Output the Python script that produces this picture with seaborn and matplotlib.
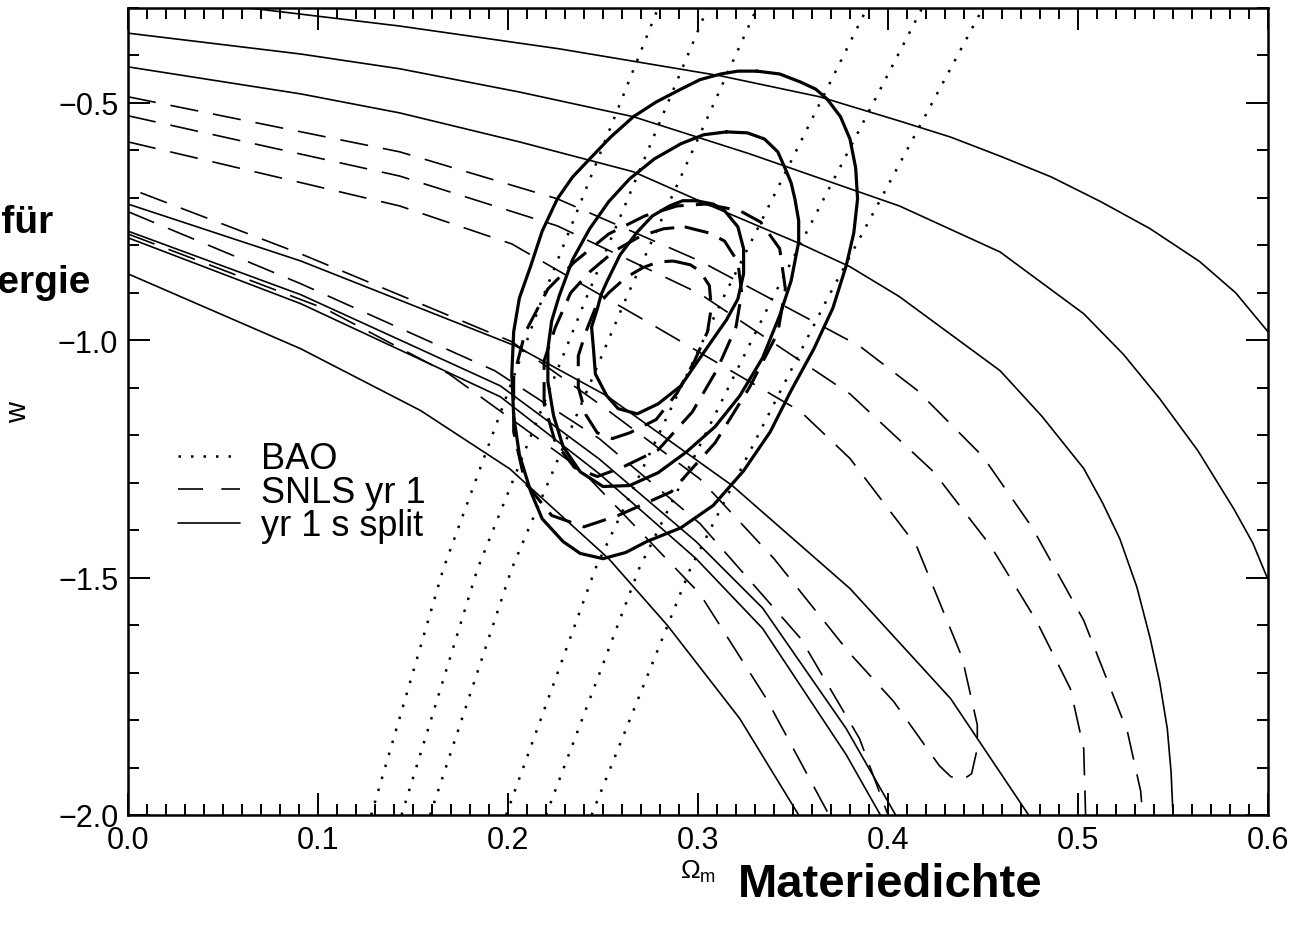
import matplotlib
matplotlib.use("Agg")
import matplotlib.pyplot as plt
from matplotlib.lines import Line2D
from matplotlib.ticker import MultipleLocator
import seaborn as sns

# ---- BAO (dotted), four points each: w values shared ----
bao_w = [-2.0, -1.481, -0.913, -0.300]
bao_1_om = [0.128, 0.166, 0.218, 0.279]
bao_2_om = [0.144, 0.184, 0.241, 0.305]
bao_3_om = [0.159, 0.202, 0.262, 0.331]
bao_4_om = [0.199, 0.246, 0.313, 0.389]
bao_5_om = [0.220, 0.269, 0.339, 0.418]
bao_6_om = [0.244, 0.296, 0.368, 0.450]

# ---- SNLS yr 1 (thin dashed) ----
snls_a_om = [0.0, 0.143, 0.226, 0.301, 0.385, 0.415, 0.450, 0.476, 0.503, 0.526, 0.533, 0.534]
snls_a_w = [-0.487, -0.603, -0.702, -0.833, -1.012, -1.104, -1.245, -1.395, -1.590, -1.824, -1.950, -2.0]
snls_b_om = [0.0, 0.143, 0.226, 0.301, 0.380, 0.424, 0.454, 0.478, 0.496, 0.503, 0.504]
snls_b_w = [-0.527, -0.654, -0.759, -0.902, -1.113, -1.277, -1.433, -1.590, -1.734, -1.860, -2.0]
snls_c_om = [0.0, 0.143, 0.202, 0.275, 0.354, 0.380, 0.415, 0.439, 0.447, 0.447, 0.444, 0.439,
             0.433, 0.427, 0.403, 0.380, 0.340, 0.301, 0.248, 0.202, 0.091, 0.0]
snls_c_w = [-0.582, -0.717, -0.797, -0.965, -1.150, -1.249, -1.433, -1.668, -1.810, -1.860, -1.913, -1.927,
            -1.919, -1.896, -1.761, -1.660, -1.460, -1.292, -1.134, -1.003, -0.818, -0.679]
snls_e_om = [0.0, 0.091, 0.193, 0.248, 0.301, 0.354, 0.385, 0.400]
snls_e_w = [-0.729, -0.881, -1.064, -1.207, -1.386, -1.628, -1.839, -2.0]
snls_f_om = [0.0, 0.104, 0.169, 0.238, 0.301, 0.336, 0.369]
snls_f_w = [-0.776, -0.934, -1.071, -1.271, -1.534, -1.755, -2.0]

# ---- yr 1 s split (thin solid) ----
split_a_om = [0.064, 0.143, 0.227, 0.312, 0.364, 0.406, 0.433, 0.459, 0.486, 0.512, 0.538, 0.564, 0.583, 0.600]
split_a_w = [-0.300, -0.338, -0.386, -0.443, -0.487, -0.538, -0.572, -0.612, -0.656, -0.708, -0.765, -0.834, -0.900, -0.982]
split_b_om = [0.0, 0.091, 0.143, 0.206, 0.266, 0.327, 0.406, 0.459, 0.503, 0.524, 0.543, 0.563, 0.582, 0.592, 0.600]
split_b_w = [-0.353, -0.397, -0.428, -0.477, -0.529, -0.607, -0.717, -0.814, -0.944, -1.030, -1.123, -1.232, -1.355, -1.427, -1.504]
split_c_om = [0.0, 0.091, 0.143, 0.206, 0.266, 0.308, 0.354, 0.380, 0.406, 0.459, 0.481, 0.503, 0.513,
              0.522, 0.531, 0.538, 0.543, 0.547, 0.549, 0.550]
split_c_w = [-0.424, -0.481, -0.521, -0.582, -0.645, -0.719, -0.797, -0.845, -0.908, -1.064, -1.160, -1.270, -1.343,
             -1.418, -1.520, -1.628, -1.720, -1.818, -1.910, -2.0]
split_d_om = [0.0, 0.091, 0.204, 0.252, 0.318, 0.380, 0.433, 0.474]
split_d_w = [-0.713, -0.833, -1.012, -1.117, -1.306, -1.523, -1.755, -2.0]
split_e1_om = [0.0, 0.091, 0.196, 0.248, 0.299, 0.334, 0.378, 0.404]
split_e1_w = [-0.770, -0.904, -1.096, -1.250, -1.424, -1.564, -1.818, -2.0]
split_e2_om = [0.0, 0.091, 0.196, 0.248, 0.299, 0.334, 0.378, 0.396]
split_e2_w = [-0.784, -0.923, -1.119, -1.281, -1.460, -1.607, -1.873, -2.0]
split_f_om = [0.0, 0.091, 0.154, 0.201, 0.253, 0.284, 0.322, 0.353]
split_f_w = [-0.860, -1.018, -1.148, -1.271, -1.460, -1.601, -1.797, -2.0]

# ---- combined contours (thick solid) ----
comb_out_om = [0.331, 0.343, 0.354, 0.362, 0.368, 0.375, 0.380, 0.383, 0.384, 0.382, 0.378, 0.371,
               0.361, 0.349, 0.338, 0.324, 0.308, 0.291, 0.273, 0.262, 0.250, 0.238, 0.229, 0.218,
               0.212, 0.206, 0.203, 0.202, 0.203, 0.206, 0.212, 0.218, 0.226, 0.234, 0.243, 0.254,
               0.266, 0.278, 0.291, 0.301, 0.312, 0.321, 0.331]
comb_out_w = [-0.433, -0.439, -0.456, -0.471, -0.492, -0.529, -0.576, -0.637, -0.702, -0.774, -0.843, -0.932,
              -1.018, -1.106, -1.193, -1.275, -1.348, -1.395, -1.424, -1.447, -1.460, -1.449, -1.424, -1.376,
              -1.319, -1.241, -1.159, -1.071, -0.982, -0.911, -0.843, -0.770, -0.702, -0.656, -0.618, -0.572,
              -0.529, -0.498, -0.471, -0.451, -0.439, -0.433, -0.433]
comb_mid_om = [0.315, 0.326, 0.335, 0.342, 0.346, 0.349, 0.351, 0.353, 0.353, 0.349, 0.343, 0.334,
               0.322, 0.309, 0.294, 0.279, 0.264, 0.250, 0.238, 0.229, 0.224, 0.221, 0.221, 0.223,
               0.227, 0.234, 0.243, 0.253, 0.264, 0.277, 0.291, 0.303, 0.315]
comb_mid_w = [-0.561, -0.563, -0.576, -0.603, -0.639, -0.668, -0.702, -0.748, -0.793, -0.875, -0.948, -1.037,
              -1.117, -1.182, -1.235, -1.279, -1.306, -1.308, -1.277, -1.224, -1.159, -1.087, -1.018, -0.959,
              -0.906, -0.830, -0.765, -0.708, -0.660, -0.618, -0.586, -0.567, -0.561]
comb_in_om = [0.299, 0.308, 0.314, 0.321, 0.324, 0.324, 0.321, 0.315, 0.308, 0.299, 0.291, 0.279, 0.268,
              0.258, 0.252, 0.246, 0.245, 0.244, 0.247, 0.249, 0.252, 0.259, 0.268, 0.276, 0.285, 0.292, 0.299]
comb_in_w = [-0.706, -0.713, -0.727, -0.761, -0.807, -0.860, -0.913, -0.957, -0.997, -1.049, -1.096, -1.134, -1.155,
             -1.144, -1.117, -1.071, -1.018, -0.972, -0.934, -0.904, -0.877, -0.820, -0.772, -0.738, -0.717, -0.706, -0.706]

# ---- combined contours with SNLS (thick dashed) ----
snlsc_out_om = [0.304, 0.322, 0.333, 0.343, 0.346, 0.342, 0.327, 0.309, 0.286, 0.258, 0.240,
                0.223, 0.209, 0.203, 0.203, 0.209, 0.221, 0.235, 0.253, 0.272, 0.289, 0.304]
snlsc_out_w = [-0.713, -0.727, -0.751, -0.807, -0.892, -0.984, -1.100, -1.216, -1.319, -1.369, -1.393,
               -1.369, -1.300, -1.193, -1.077, -0.984, -0.892, -0.835, -0.776, -0.738, -0.717, -0.713]
snlsc_mid_om = [0.293, 0.306, 0.314, 0.321, 0.323, 0.320, 0.310, 0.297, 0.279, 0.260, 0.247,
                0.235, 0.225, 0.219, 0.219, 0.225, 0.233, 0.243, 0.256, 0.270, 0.282, 0.293]
snlsc_mid_w = [-0.761, -0.774, -0.791, -0.835, -0.900, -0.972, -1.062, -1.151, -1.231, -1.268, -1.287,
               -1.268, -1.216, -1.134, -1.043, -0.972, -0.900, -0.856, -0.812, -0.780, -0.765, -0.761]
snlsc_in_om = [0.287, 0.296, 0.301, 0.306, 0.307, 0.305, 0.298, 0.289, 0.278, 0.264, 0.255,
               0.247, 0.241, 0.237, 0.237, 0.241, 0.246, 0.253, 0.262, 0.271, 0.279, 0.287]
snlsc_in_w = [-0.833, -0.841, -0.854, -0.885, -0.932, -0.982, -1.045, -1.111, -1.167, -1.195, -1.207,
              -1.195, -1.157, -1.098, -1.033, -0.982, -0.932, -0.900, -0.868, -0.847, -0.835, -0.833]

legend_labels = ["BAO", "SNLS yr 1", "yr 1 s split"]

sns.set_style("ticks")
plt.rcParams.update({
    'font.family': ['Liberation Sans', 'DejaVu Sans'],
    'mathtext.fontset': 'custom',
    'mathtext.rm': 'Liberation Sans',
    'mathtext.it': 'Liberation Sans:italic',
    'axes.linewidth': 1.8,
    'axes.edgecolor': 'black',
    'text.color': 'black',
    'axes.labelcolor': 'black',
    'xtick.color': 'black',
    'ytick.color': 'black',
})

DOT = (0, (1, 4))
DASH = (0, (17, 9))
THICK_DASH = (0, (8, 4))


def draw(ax, om, w, style, lw):
    sns.lineplot(x=om, y=w, sort=False, estimator=None, color='black',
                 linewidth=lw, linestyle=style, ax=ax, legend=False)


fig = plt.figure(figsize=(12.94, 9.28), dpi=100)
ax = fig.add_axes([0.0989, 0.1207, 0.881, 0.8696])

for om in [bao_1_om, bao_2_om, bao_3_om, bao_4_om, bao_5_om, bao_6_om]:
    draw(ax, om, bao_w, DOT, 1.8)

for om, w in [(snls_a_om, snls_a_w), (snls_b_om, snls_b_w), (snls_c_om, snls_c_w),
              (snls_e_om, snls_e_w), (snls_f_om, snls_f_w)]:
    draw(ax, om, w, DASH, 1.2)

for om, w in [(split_a_om, split_a_w), (split_b_om, split_b_w), (split_c_om, split_c_w),
              (split_d_om, split_d_w), (split_e1_om, split_e1_w), (split_e2_om, split_e2_w),
              (split_f_om, split_f_w)]:
    draw(ax, om, w, '-', 1.2)

for om, w in [(comb_out_om, comb_out_w), (comb_mid_om, comb_mid_w), (comb_in_om, comb_in_w)]:
    draw(ax, om, w, '-', 2.3)

for om, w in [(snlsc_out_om, snlsc_out_w), (snlsc_mid_om, snlsc_mid_w), (snlsc_in_om, snlsc_in_w)]:
    draw(ax, om, w, THICK_DASH, 2.2)

ax.set_xlim(0.0, 0.6)
ax.set_ylim(-2.0, -0.3)
ax.xaxis.set_major_locator(MultipleLocator(0.1))
ax.xaxis.set_minor_locator(MultipleLocator(0.01))
ax.yaxis.set_major_locator(MultipleLocator(0.5))
ax.yaxis.set_minor_locator(MultipleLocator(0.1))
ax.tick_params(which='both', direction='in', top=True, right=True, width=1.4,
               labelsize=22, pad=7, colors='black')
ax.tick_params(which='major', length=16)
ax.tick_params(which='minor', length=8)

ax.set_xlabel(r'$\Omega_{\rm m}$', fontsize=19, labelpad=2)
ax.set_ylabel('w', fontsize=21)
ax.yaxis.set_label_coords(-0.084, 0.5)

handles = [Line2D([], [], color='black', lw=1.8, linestyle=DOT),
           Line2D([], [], color='black', lw=1.2, linestyle=(0, (15, 11))),
           Line2D([], [], color='black', lw=1.2, linestyle='-')]
ax.legend(handles, legend_labels, loc='upper left', bbox_to_anchor=(0.044, 0.463),
          frameon=False, fontsize=26, handlelength=1.7, handletextpad=0.6,
          labelspacing=-0.04, borderpad=0, borderaxespad=0)

fig.text(0.570, 0.033, 'Materiedichte', fontsize=34, fontweight='bold',
         ha='left', va='baseline')
fig.text(0.041, 0.749, 'Zustandsgleichung für', fontsize=28, fontweight='bold',
         ha='right', va='baseline')
fig.text(0.0696, 0.684, 'Dunkle Energie', fontsize=28, fontweight='bold',
         ha='right', va='baseline')

fig.savefig('out.png', dpi=100)
